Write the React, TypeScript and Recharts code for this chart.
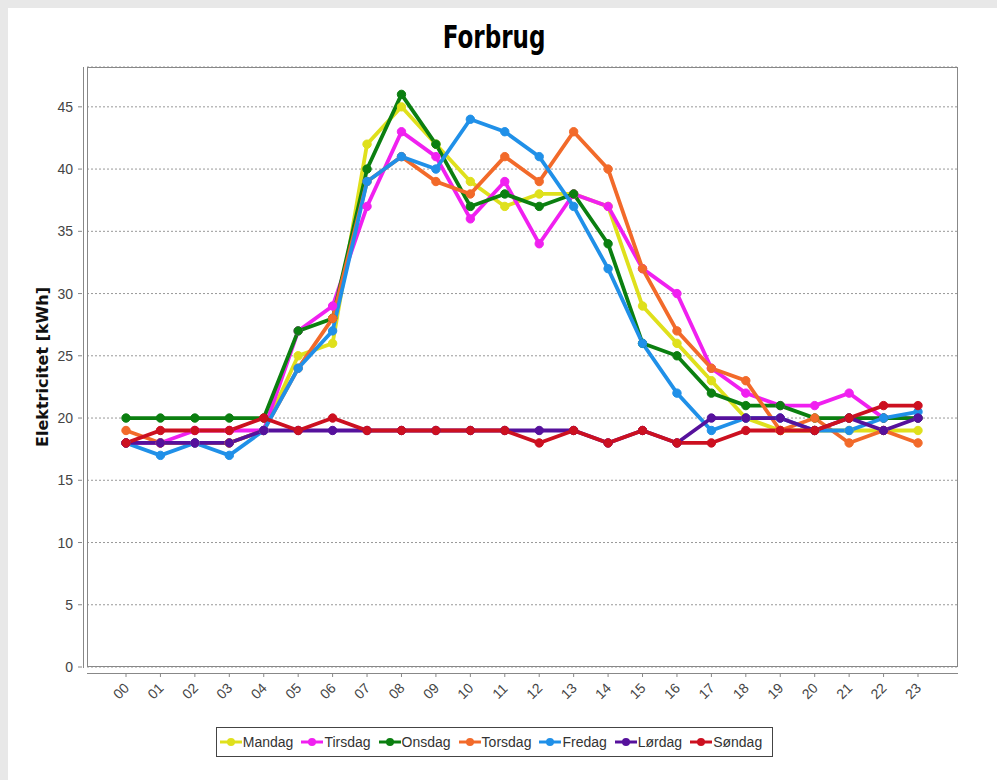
import { CartesianGrid, Line, LineChart, XAxis, YAxis } from "recharts";

const hours = ["00", "01", "02", "03", "04", "05", "06", "07", "08", "09", "10", "11", "12", "13", "14", "15", "16", "17", "18", "19", "20", "21", "22", "23"];

const mandag = [18, 18, 18, 18, 19, 25, 26, 42, 45, 42, 39, 37, 38, 38, 37, 29, 26, 23, 20, 19, 19, 19, 19, 19];
const tirsdag = [18, 18, 19, 19, 19, 27, 29, 37, 43, 41, 36, 39, 34, 38, 37, 32, 30, 24, 22, 21, 21, 22, 20, 20];
const onsdag = [20, 20, 20, 20, 20, 27, 28, 40, 46, 42, 37, 38, 37, 38, 34, 26, 25, 22, 21, 21, 20, 20, 20, 20];
const torsdag = [19, 18, 18, 18, 19, 24, 28, 39, 41, 39, 38, 41, 39, 43, 40, 32, 27, 24, 23, 19, 20, 18, 19, 18];
const fredag = [18, 17, 18, 17, 19, 24, 27, 39, 41, 40, 44, 43, 41, 37, 32, 26, 22, 19, 20, 20, 19, 19, 20, 20.5];
const loerdag = [18, 18, 18, 18, 19, 19, 19, 19, 19, 19, 19, 19, 19, 19, 18, 19, 18, 20, 20, 20, 19, 20, 19, 20];
const soendag = [18, 19, 19, 19, 20, 19, 20, 19, 19, 19, 19, 19, 18, 19, 18, 19, 18, 18, 19, 19, 19, 20, 21, 21];

const yTicks = [0, 5, 10, 15, 20, 25, 30, 35, 40, 45];

const series = [
  { key: "Mandag", values: mandag, color: "#dfe01c" },
  { key: "Tirsdag", values: tirsdag, color: "#f020f0" },
  { key: "Onsdag", values: onsdag, color: "#0b7f10" },
  { key: "Torsdag", values: torsdag, color: "#f26a2a" },
  { key: "Fredag", values: fredag, color: "#2090e8" },
  { key: "Lørdag", values: loerdag, color: "#56119c" },
  { key: "Søndag", values: soendag, color: "#cc1020" },
];

const data = hours.map((h, i) => {
  const row: Record<string, string | number> = { hour: h };
  series.forEach((s) => {
    row[s.key] = s.values[i];
  });
  return row;
});

const tickFont = "'Liberation Sans', Arial, sans-serif";

function YTick({ x, y, payload }: any) {
  return (
    <g>
      <line x1={x - 9} x2={x - 5} y1={y} y2={y} stroke="#888" />
      <text x={x - 14} y={y} textAnchor="end" dominantBaseline="central" fontSize={14} fill="#444" fontFamily={tickFont}>
        {payload.value}
      </text>
    </g>
  );
}

function XTick({ x, y, payload }: any) {
  const cx = x - 5;
  const cy = y + 24;
  return (
    <g>
      <line x1={x} x2={x} y1={y + 6} y2={y + 10} stroke="#888" />
      <text
        x={cx}
        y={cy}
        textAnchor="middle"
        dominantBaseline="central"
        fontSize={14}
        fill="#444"
        fontFamily={tickFont}
        transform={`rotate(-45 ${cx} ${cy})`}
      >
        {payload.value}
      </text>
    </g>
  );
}

function LegendBox() {
  return (
    <div
      style={{
        position: "absolute",
        top: 719,
        left: 0,
        width: 973,
        display: "flex",
        justifyContent: "center",
      }}
    >
      <div
        style={{
          display: "flex",
          alignItems: "center",
          border: "1px solid #444",
          padding: "6px 3px 6px 2px",
          fontFamily: tickFont,
          fontSize: 14,
          color: "#333",
          background: "#fff",
        }}
      >
        {series.map((s) => (
          <div key={s.key} style={{ display: "flex", alignItems: "center", marginRight: 7 }}>
            <svg width={24} height={12}>
              <line x1={1} x2={23} y1={6} y2={6} stroke={s.color} strokeWidth={3} />
              <circle cx={12} cy={6} r={4} fill={s.color} />
            </svg>
            <span>{s.key}</span>
          </div>
        ))}
      </div>
    </div>
  );
}

export default function App() {
  return (
    <div style={{ position: "relative", width: 1000, height: 780, marginLeft: 8, marginTop: 8, background: "#fff" }}>
      <style>{`html, body { margin: 0; overflow: hidden; background: #e8e8e8; }`}</style>
      <div
        style={{
          position: "absolute",
          top: 10,
          left: 0,
          width: 972,
          textAlign: "center",
        }}
      >
        <span
          style={{
            display: "inline-block",
            transform: "scaleX(0.8)",
            fontFamily: "'Liberation Sans Narrow', 'DejaVu Sans Condensed', sans-serif",
            fontWeight: "bold",
            fontSize: 32,
            color: "#000",
          }}
        >
          Forbrug
        </span>
      </div>
      <div
        style={{
          position: "absolute",
          left: 34,
          top: 359,
          transform: "translate(-50%, -50%) rotate(-90deg)",
          whiteSpace: "nowrap",
          fontFamily: "'DejaVu Sans', sans-serif",
          fontWeight: "bold",
          fontSize: 16,
          color: "#111",
        }}
      >
        Elektricitet [kWh]
      </div>
      <LineChart width={989} height={772} data={data} margin={{ top: 59, right: 39, left: 0, bottom: 0 }}>
        <CartesianGrid vertical={false} strokeDasharray="2 2" stroke="#999" />
        <XAxis
          dataKey="hour"
          height={113}
          padding={{ left: 39, right: 40 }}
          axisLine={false}
          tickLine={false}
          tickSize={0}
          tickMargin={0}
          interval={0}
          tick={<XTick />}
        />
        <YAxis
          width={79}
          domain={[0, 48.2]}
          ticks={yTicks}
          axisLine={false}
          tickLine={false}
          tickSize={0}
          tickMargin={0}
          tick={<YTick />}
        />
        {series.map((s) => (
          <Line
            key={s.key}
            type="linear"
            dataKey={s.key}
            stroke={s.color}
            strokeWidth={3.8}
            dot={{ r: 4.2, fill: s.color, stroke: s.color, strokeWidth: 1 }}
            activeDot={false}
            isAnimationActive={false}
          />
        ))}
      </LineChart>
      <div
        style={{
          position: "absolute",
          left: 79,
          top: 59,
          width: 871,
          height: 600,
          boxSizing: "border-box",
          border: "1px solid #888",
          pointerEvents: "none",
        }}
      />
      <div style={{ position: "absolute", left: 75, top: 59, width: 1, height: 601, background: "#888" }} />
      <div style={{ position: "absolute", left: 79, top: 665, width: 871, height: 1, background: "#888" }} />
      <LegendBox />
    </div>
  );
}
